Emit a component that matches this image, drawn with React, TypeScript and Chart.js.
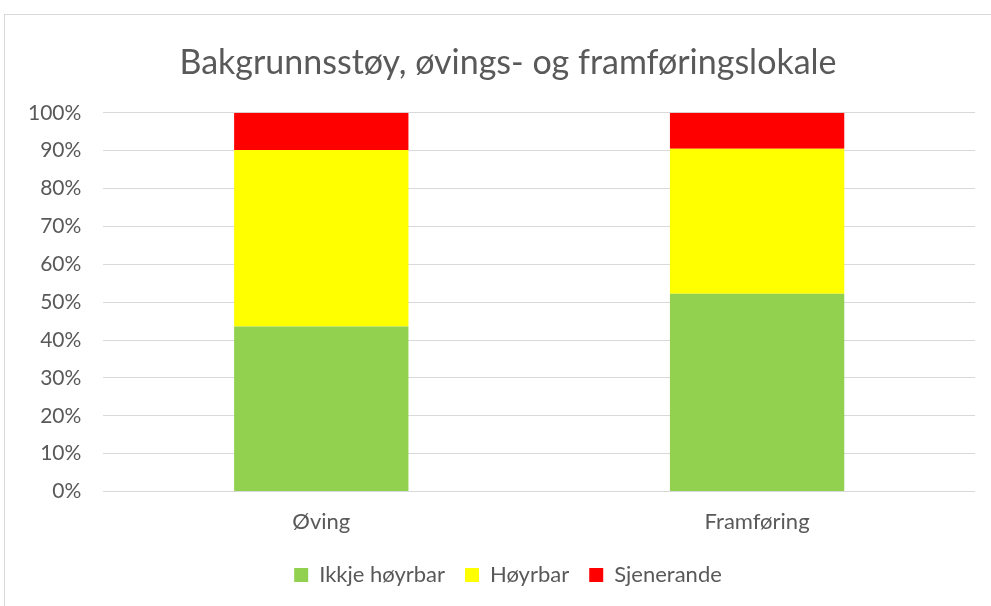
import React, { useEffect, useRef } from "react";
import { Chart, registerables } from "chart.js";

Chart.register(...registerables);

const categories = ["Øving", "Framføring"];
const ikkjeHoyrbar = [43.6, 52.2];
const hoyrbar = [46.6, 38.3];
const sjenerande = [9.8, 9.5];
const yTicks = [0, 10, 20, 30, 40, 50, 60, 70, 80, 90, 100];
const titleText = "Bakgrunnsstøy, øvings- og framføringslokale";

const FONT = "Lato, 'Open Sans', sans-serif";
const GRAY = "#595959";

export default function App() {
  const ref = useRef<HTMLCanvasElement | null>(null);
  useEffect(() => {
    if (!ref.current) return;
    const chart = new Chart(ref.current, {
      type: "bar",
      data: {
        labels: categories,
        datasets: [
          { label: "Ikkje høyrbar", data: ikkjeHoyrbar, backgroundColor: "#92d050" },
          { label: "Høyrbar", data: hoyrbar, backgroundColor: "#ffff00" },
          { label: "Sjenerande", data: sjenerande, backgroundColor: "#ff0000" },
        ],
      },
      options: {
        animation: false,
        responsive: false,
        maintainAspectRatio: false,
        layout: { padding: { top: 29, left: 6, right: 0, bottom: 14 } },
        datasets: { bar: { categoryPercentage: 1, barPercentage: 0.4 } },
        plugins: {
          title: {
            display: true,
            text: titleText,
            color: GRAY,
            font: { family: FONT, size: 34, weight: "normal" },
            padding: { top: 0, bottom: 29 },
          },
          legend: {
            position: "bottom",
            labels: {
              color: GRAY,
              font: { family: FONT, size: 22 },
              boxWidth: 14,
              boxHeight: 14,
              padding: 20,
            },
          },
          tooltip: { enabled: false },
        },
        scales: {
          x: {
            stacked: true,
            grid: { display: false },
            border: { display: false },
            ticks: { color: GRAY, font: { family: FONT, size: 22 }, padding: 9 },
          },
          y: {
            stacked: true,
            min: 0,
            max: 100,
            afterBuildTicks: (axis: any) => {
              axis.ticks = yTicks.map((v) => ({ value: v }));
            },
            grid: { color: "#d9d9d9", drawTicks: false, lineWidth: 1 },
            border: { display: false },
            ticks: {
              color: GRAY,
              font: { family: FONT, size: 21 },
              padding: 22,
              callback: (v: any) => v + "%",
            },
          },
          y2: {
            type: "linear",
            position: "right",
            display: true,
            grid: { display: false },
            border: { display: false },
            ticks: { display: false },
            afterFit: (axis: any) => {
              axis.width = 35;
            },
          },
        },
      },
    });
    return () => chart.destroy();
  }, []);
  return (
    <div style={{ position: "fixed", left: 0, top: 0, width: 991, height: 606, background: "#fff", overflow: "hidden" }}>
      <div style={{ position: "absolute", left: 4, top: 14, width: 1000, height: 700, border: "1px solid #d9d9d9", boxSizing: "border-box" }} />
      <canvas ref={ref} width={1010} height={596} style={{ position: "absolute", left: 0, top: 14, width: 1010, height: 596 }} />
    </div>
  );
}
